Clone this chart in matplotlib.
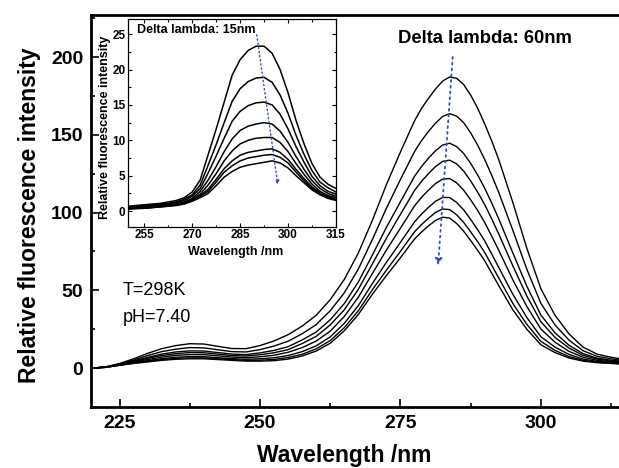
import matplotlib
matplotlib.use("Agg")
import matplotlib.pyplot as plt
from matplotlib.ticker import MultipleLocator

plt.rcParams['font.family'] = ['Liberation Sans', 'DejaVu Sans']

# ---------------- main spectra (Delta lambda = 60 nm) ----------------
wl_main = [220, 222.5, 225, 227.5, 230, 232.5, 235, 237.5, 240, 242.5, 245, 247.5,
           250, 252.5, 255, 257.5, 260, 262.5, 265, 267.5, 270, 272.5, 275, 277.5,
           278.75, 280, 281.25, 282.5, 283.75, 285, 286.25, 287.5, 288.75, 290, 291.25, 292.5,
           295, 297.5, 300, 302.5, 305, 307.5, 310, 312.5, 315]

main_c1 = [0, 0.8, 3, 6, 9.5, 12.5, 14.5, 15.7, 15.5, 14, 12.6, 12.5, 14.5, 17.5, 21.5, 27,
           34, 44, 57, 74, 95, 118, 139, 159,
           167, 173.5, 179.5, 184.5, 187.2, 186.3, 182.3, 175.5, 167, 157, 146, 134,
           106.5, 77, 51, 34, 22, 13.5, 9, 7, 5.5]
main_c2 = [0, 0.7, 2.7, 5.2, 8.1, 10.6, 12.2, 13.2, 13.0, 11.8, 10.6, 10.4, 11.9, 14.2, 17.3,
           22.1, 28.0, 36.9, 48.4, 63.7, 82.7, 102.8, 121.3, 139.2,
           146.3, 152.2, 157.5, 161.8, 163.6, 162.0, 157.8, 151.2, 143.3, 134.1, 123.9, 112.9,
           88.6, 63.5, 41.6, 27.8, 18.0, 11.2, 7.6, 6.0, 4.7]
main_c3 = [0, 0.7, 2.4, 4.6, 6.9, 9.0, 10.4, 11.1, 11.0, 10.0, 9.0, 8.7, 9.8, 11.4, 13.8,
           18.1, 23.2, 31.1, 41.5, 55.4, 72.7, 90.5, 107.0, 123.3,
           129.6, 135.0, 139.8, 143.4, 144.6, 142.4, 138.0, 131.6, 124.1, 115.6, 106.1, 95.9,
           74.1, 52.6, 34.1, 22.7, 14.7, 9.3, 6.4, 5.1, 4.1]
main_c4 = [0, 0.6, 2.3, 4.2, 6.3, 8.1, 9.3, 10.0, 9.9, 9.0, 8.1, 7.8, 8.6, 9.9, 11.9, 15.8,
           20.4, 27.8, 37.5, 50.7, 67.0, 83.5, 98.9, 114.2,
           120.1, 125.1, 129.6, 132.9, 133.7, 131.3, 126.7, 120.3, 113.1, 105.1, 95.9, 86.2,
           65.8, 46.3, 29.8, 19.8, 12.9, 8.2, 5.8, 4.6, 3.7]
main_c5 = [0, 0.6, 2.1, 3.8, 5.5, 7.1, 8.2, 8.7, 8.7, 7.9, 7.1, 6.7, 7.3, 8.3, 10.2, 13.2,
           17.4, 23.8, 33.2, 45.6, 60.8, 75.9, 90.0, 104.3,
           109.8, 114.5, 118.7, 121.5, 121.9, 119.1, 114.4, 108.2, 101.3, 93.6, 84.8, 75.7,
           56.8, 39.6, 25.1, 16.7, 10.8, 7.0, 5.0, 4.1, 3.3]
main_c6 = [0, 0.5, 2.0, 3.4, 4.8, 6.1, 7.0, 7.4, 7.4, 6.7, 6.1, 5.7, 6.0, 6.7, 8.1, 10.6,
           14.3, 20.1, 28.8, 40.2, 54.4, 68.0, 80.9, 94.0,
           99.0, 103.4, 107.3, 109.7, 109.7, 106.5, 101.7, 95.6, 88.9, 81.8, 73.3, 64.7,
           47.5, 32.5, 20.2, 13.5, 8.8, 5.8, 4.3, 3.6, 2.9]
main_c7 = [0, 0.5, 1.9, 3.2, 4.3, 5.5, 6.2, 6.6, 6.6, 6.0, 5.5, 5.0, 5.1, 5.6, 6.8, 8.9,
           12.4, 17.7, 26.0, 36.9, 50.4, 63.0, 75.1, 87.6,
           92.3, 96.4, 100.1, 102.3, 101.9, 98.6, 93.7, 87.6, 81.2, 74.3, 66.1, 57.9,
           41.6, 28.1, 17.2, 11.4, 7.4, 5.0, 3.8, 3.2, 2.7]
main_c8 = [0, 0.5, 1.8, 3, 4, 5, 5.7, 6, 6, 5.5, 5, 4.5, 4.5, 4.8, 5.8, 7.8, 11, 16, 24,
           34.5, 47.5, 59.5, 71, 83,
           87.5, 91.5, 95, 97, 96.5, 93, 88, 82, 75.7, 69, 61, 53,
           37.5, 25, 15, 10, 6.5, 4.5, 3.5, 3, 2.5]

# ---------------- inset spectra (Delta lambda = 15 nm) ----------------
wl_inset = [250, 252.5, 255, 257.5, 260, 262.5, 265, 267.5, 270, 272.5, 275, 277.5, 280,
            282.5, 285, 287.5, 290, 292.5, 295, 297.5, 300, 302.5, 305, 307.5, 310, 312.5, 315]

ins_c1 = [0.7, 0.8, 0.9, 1.0, 1.1, 1.3, 1.5, 1.9, 2.7, 4.4, 8.0, 11.6, 15.4, 19.2, 21.4,
          22.7, 23.3, 23.3, 22.3, 20.0, 16.7, 12.8, 9.5, 6.7, 4.8, 3.8, 3.2]
ins_c2 = [0.6, 0.7, 0.8, 0.9, 1.0, 1.1, 1.3, 1.7, 2.3, 3.7, 6.5, 9.4, 12.5, 15.5, 17.3,
          18.3, 18.8, 18.9, 18.2, 16.4, 13.8, 10.7, 8.0, 5.7, 4.1, 3.3, 2.7]
ins_c3 = [0.5, 0.6, 0.7, 0.8, 0.9, 1.0, 1.2, 1.5, 2.1, 3.2, 5.4, 7.8, 10.3, 12.7, 14.1,
          14.9, 15.3, 15.4, 15.0, 13.7, 11.6, 9.1, 6.9, 4.9, 3.6, 2.8, 2.4]
ins_c4 = [0.4, 0.5, 0.6, 0.7, 0.8, 0.9, 1.0, 1.3, 1.8, 2.8, 4.4, 6.3, 8.4, 10.2, 11.4,
          12.0, 12.3, 12.5, 12.3, 11.3, 9.7, 7.7, 5.9, 4.3, 3.2, 2.5, 2.1]
ins_c5 = [0.4, 0.45, 0.5, 0.6, 0.7, 0.8, 0.95, 1.2, 1.7, 2.4, 3.7, 5.3, 7.1, 8.5, 9.5,
          10.0, 10.3, 10.4, 10.4, 9.7, 8.4, 6.7, 5.2, 3.8, 2.8, 2.2, 1.9]
ins_c6 = [0.35, 0.4, 0.45, 0.55, 0.65, 0.75, 0.9, 1.1, 1.5, 2.2, 3.1, 4.5, 6.0, 7.1, 7.9,
          8.3, 8.5, 8.7, 8.8, 8.3, 7.3, 5.9, 4.6, 3.4, 2.6, 2.0, 1.7]
ins_c7 = [0.3, 0.4, 0.4, 0.5, 0.6, 0.7, 0.85, 1.05, 1.5, 2.1, 2.8, 4.1, 5.5, 6.4, 7.1,
          7.5, 7.7, 7.9, 8.0, 7.6, 6.8, 5.5, 4.3, 3.2, 2.5, 1.9, 1.6]
ins_c8 = [0.3, 0.35, 0.4, 0.5, 0.6, 0.7, 0.8, 1.0, 1.4, 1.9, 2.5, 3.6, 4.8, 5.6, 6.2,
          6.5, 6.7, 6.9, 7.1, 6.8, 6.1, 5.0, 4.0, 3.0, 2.3, 1.8, 1.5]

main_curves = [main_c1, main_c2, main_c3, main_c4, main_c5, main_c6, main_c7, main_c8]
inset_curves = [ins_c1, ins_c2, ins_c3, ins_c4, ins_c5, ins_c6, ins_c7, ins_c8]

# arrow endpoints (data coords: tail -> head)
main_arrow_tail = (284.3, 200)
main_arrow_head = (281.7, 66)
inset_arrow_tail = (290.2, 24.9)
inset_arrow_head = (296.8, 3.7)

main_xticks = [225, 250, 275, 300]
main_yticks = [0, 50, 100, 150, 200]
inset_xticks = [255, 270, 285, 300, 315]
inset_yticks = [0, 5, 10, 15, 20, 25]

ARROW_COLOR = '#3550b0'

fig = plt.figure(figsize=(6.19, 4.68), dpi=100)
ax = fig.add_axes([0.1478, 0.1303, 0.8522, 0.8376])

for c in main_curves:
    ax.plot(wl_main, c, color='black', lw=1.0, solid_joinstyle='round')

ax.set_xlim(220, 313.9)
ax.set_ylim(-25, 227)
ax.set_xticks(main_xticks)
ax.set_yticks(main_yticks)
ax.xaxis.set_minor_locator(MultipleLocator(12.5))
ax.yaxis.set_minor_locator(MultipleLocator(25))
ax.tick_params(which='both', direction='in', top=False, right=False, width=1.2)
ax.tick_params(which='major', length=6, labelsize=14, pad=6)
ax.tick_params(which='minor', length=3)
for lab in ax.get_xticklabels() + ax.get_yticklabels():
    lab.set_fontweight('bold')
for s in ['left', 'bottom', 'top']:
    ax.spines[s].set_linewidth(2.0)
ax.spines['right'].set_visible(False)

ax.set_xlabel('Wavelength /nm', fontsize=16.5, fontweight='bold')
ax.set_ylabel('Relative fluorescence intensity', fontsize=16.5, fontweight='bold')
ax.xaxis.label.set_va('center')
ax.yaxis.label.set_va('center')
ax.xaxis.set_label_coords(0.4787, -0.1224)
ax.yaxis.set_label_coords(-0.1166, 0.49)

ax.text(274.6, 212, 'Delta lambda: 60nm', fontsize=13.3, fontweight='bold',
        ha='left', va='center')
ax.text(225.6, 50, 'T=298K', fontsize=13, ha='left', va='center')
ax.text(225.6, 32.8, 'pH=7.40', fontsize=13, ha='left', va='center')

ax.annotate('', xy=main_arrow_head, xytext=main_arrow_tail,
            arrowprops=dict(arrowstyle='-|>', color=ARROW_COLOR, lw=1.3,
                            linestyle=(0, (1, 2.2)), mutation_scale=10,
                            shrinkA=0, shrinkB=0))

# ---------------- inset ----------------
axi = fig.add_axes([0.2073, 0.5156, 0.3355, 0.4432])
for c in inset_curves:
    axi.plot(wl_inset, c, color='black', lw=1.1, solid_joinstyle='round')
axi.set_xlim(250, 315)
axi.set_ylim(-2.2, 27.1)
axi.set_xticks(inset_xticks)
axi.set_yticks(inset_yticks)
axi.xaxis.set_minor_locator(MultipleLocator(7.5))
axi.yaxis.set_minor_locator(MultipleLocator(2.5))
axi.tick_params(which='both', direction='in', top=True, right=True, width=0.8)
axi.tick_params(which='major', length=3, labelsize=8.5, pad=2)
axi.tick_params(which='minor', length=1.8)
for lab in axi.get_xticklabels() + axi.get_yticklabels():
    lab.set_fontweight('bold')
for s in axi.spines.values():
    s.set_linewidth(0.9)
axi.set_xlabel('Wavelength /nm', fontsize=9, fontweight='bold')
axi.set_ylabel('Relative fluorescence intensity', fontsize=9, fontweight='bold')
axi.xaxis.label.set_va('center')
axi.yaxis.label.set_va('center')
axi.xaxis.set_label_coords(0.5185, -0.122)
axi.yaxis.set_label_coords(-0.112, 0.48)
axi.text(252.8, 25.6, 'Delta lambda: 15nm', fontsize=9, fontweight='bold',
         ha='left', va='center')
axi.annotate('', xy=inset_arrow_head, xytext=inset_arrow_tail,
             arrowprops=dict(arrowstyle='-|>', color=ARROW_COLOR, lw=1.0,
                             linestyle=(0, (1, 2.0)), mutation_scale=6,
                             shrinkA=0, shrinkB=0))

fig.savefig('out.png', dpi=100)
